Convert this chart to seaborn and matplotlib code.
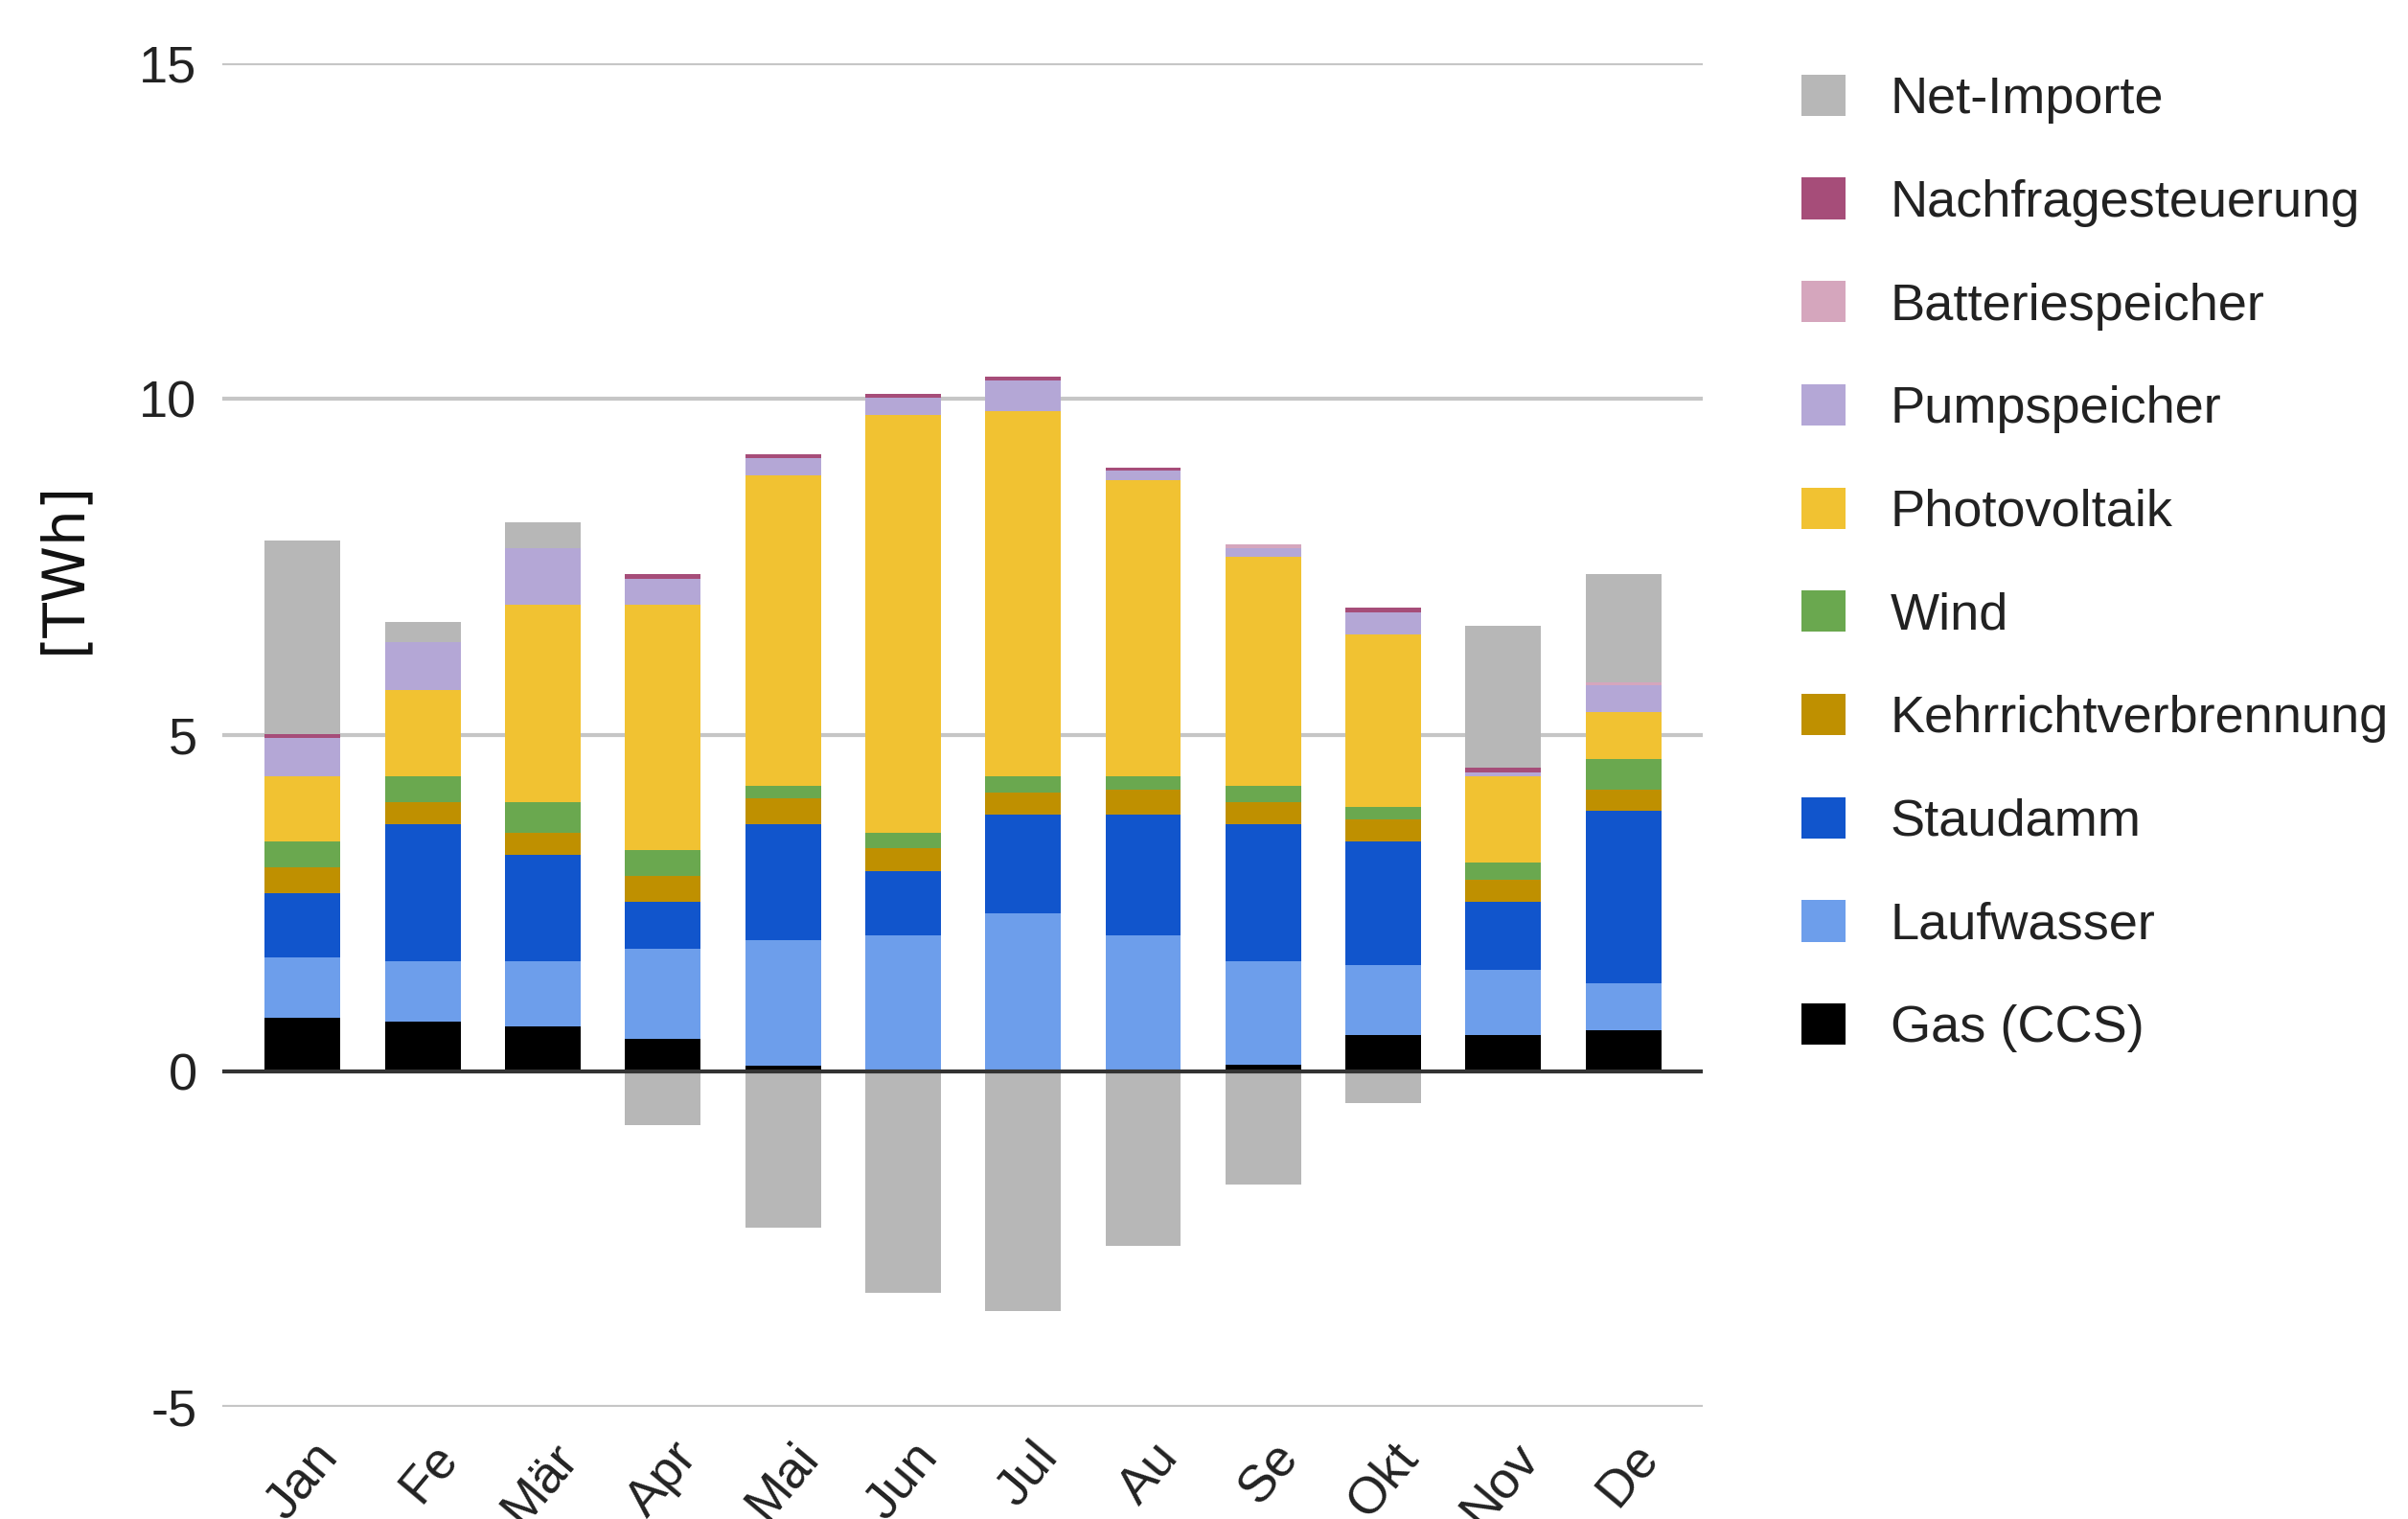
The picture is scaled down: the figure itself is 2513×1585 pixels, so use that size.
import numpy as np
import matplotlib.pyplot as plt
import matplotlib.transforms as mtransforms
from matplotlib.patches import Patch
import seaborn as sns

months = ["Jan", "Fe", "Mär", "Apr", "Mai", "Jun", "Jul", "Au", "Se", "Okt", "Nov", "De"]

# monthly values in TWh
gas = [0.79, 0.73, 0.67, 0.48, 0.08, 0.0, 0.0, 0.0, 0.09, 0.54, 0.54, 0.61]
laufwasser = [0.90, 0.90, 0.96, 1.34, 1.87, 2.02, 2.34, 2.02, 1.54, 1.03, 0.96, 0.70]
staudamm = [0.96, 2.05, 1.59, 0.70, 1.73, 0.95, 1.47, 1.79, 2.05, 1.85, 1.02, 2.56]
kehricht = [0.38, 0.32, 0.32, 0.38, 0.38, 0.34, 0.33, 0.38, 0.32, 0.32, 0.32, 0.32]
wind = [0.38, 0.38, 0.46, 0.39, 0.19, 0.24, 0.25, 0.20, 0.25, 0.19, 0.26, 0.45]
photovoltaik = [0.97, 1.29, 2.94, 3.65, 4.61, 6.21, 5.43, 4.41, 3.40, 2.57, 1.29, 0.70]
pumpspeicher = [0.58, 0.71, 0.84, 0.39, 0.26, 0.26, 0.46, 0.13, 0.13, 0.32, 0.06, 0.40]
batterie = [0.0, 0.0, 0.0, 0.0, 0.0, 0.0, 0.0, 0.0, 0.06, 0.0, 0.0, 0.05]
nachfrage = [0.05, 0.0, 0.0, 0.06, 0.06, 0.06, 0.05, 0.05, 0.0, 0.07, 0.07, 0.0]
net_importe = [2.89, 0.31, 0.38, -0.80, -2.33, -3.30, -3.57, -2.61, -1.69, -0.48, 2.11, 1.61]

series_names = ["Gas (CCS)", "Laufwasser", "Staudamm", "Kehrrichtverbrennung", "Wind",
                "Photovoltaik", "Pumpspeicher", "Batteriespeicher", "Nachfragesteuerung", "Net-Importe"]
series_colors = ["#000000", "#6d9eeb", "#1155cc", "#bf9000", "#6aa84f",
                 "#f1c232", "#b4a7d6", "#d5a6bd", "#a64d79", "#b7b7b7"]

sns.set_style("white")
plt.rcParams['font.family'] = ['Liberation Sans', 'DejaVu Sans']

fig = plt.figure(figsize=(25.13, 15.85), dpi=100)
ax = fig.add_axes([0.0923, 0.0738, 0.6148, 0.8846])

imports = np.array(net_importe)
layers = [gas, laufwasser, staudamm, kehricht, wind, photovoltaik,
          pumpspeicher, batterie, nachfrage, np.clip(imports, 0, None)]
tops = np.cumsum(np.vstack(layers), axis=0)

# gridlines behind bars
for y in [-5, 5, 10, 15]:
    ax.axhline(y, color="#c6c6c6", lw=3.0, zorder=0)

# stacked bars: draw cumulative heights from the top layer down
bar_w = 0.63
for i in reversed(range(len(layers))):
    sns.barplot(x=months, y=tops[i], color=series_colors[i], saturation=1,
                width=bar_w, errorbar=None, linewidth=0, ax=ax)
# negative net imports go below zero
sns.barplot(x=months, y=np.clip(imports, None, 0), color=series_colors[-1], saturation=1,
            width=bar_w, errorbar=None, linewidth=0, ax=ax)

ax.axhline(0, color="#333333", lw=3.0, zorder=5)

ax.set_ylim(-5, 15)
ax.set_xlim(-0.67, 11.66)
ax.set_yticks([-5, 0, 5, 10, 15])
ax.set_yticklabels(["-5", "0", "5", "10", "15"])
ax.tick_params(axis="y", length=0, pad=19, labelsize=39, labelcolor="#222222")
ax.tick_params(axis="x", length=0, pad=20, labelsize=39, labelcolor="#222222")
ax.set_xlabel("")
for lab in ax.get_xticklabels():
    lab.set_rotation(50)
    lab.set_ha("right")
    lab.set_va("top")
    lab.set_rotation_mode("anchor")
    lab.set_transform(lab.get_transform() + mtransforms.ScaledTranslation(0.08, 0, fig.dpi_scale_trans))
for s in ax.spines.values():
    s.set_visible(False)

ax.set_ylabel("[TWh]", fontsize=43, family=["DejaVu Sans"], color="#111111")
ax.yaxis.set_label_coords(-0.088, 0.625)

handles = [Patch(facecolor=c, edgecolor="none", label=n)
           for n, c in zip(series_names[::-1], series_colors[::-1])]
fig.legend(handles=handles, loc="upper left", bbox_to_anchor=(0.7375, 0.968),
           frameon=False, fontsize=39, handlelength=0.85, handleheight=0.85,
           handletextpad=0.85, labelspacing=1.04, borderpad=0, labelcolor="#222222")

fig.savefig("out.png", dpi=100, facecolor="white")
